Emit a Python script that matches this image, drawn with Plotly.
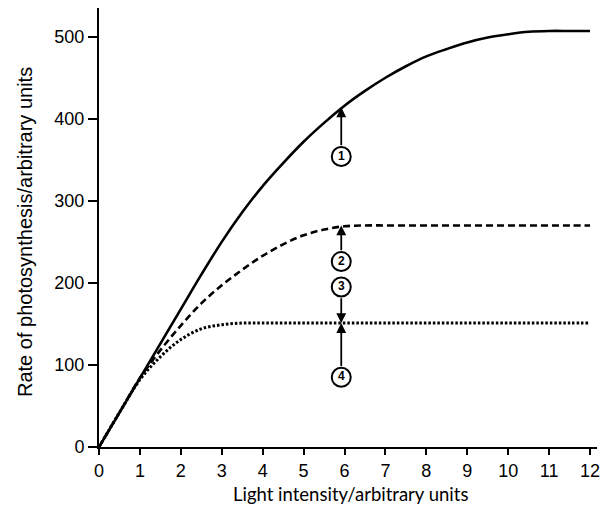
import plotly.graph_objects as go

# Data
light = [0, 0.5, 1, 1.5, 2, 2.5, 3, 3.5, 4, 4.5, 5, 5.5, 6, 6.5, 7, 7.5, 8, 8.5, 9, 9.5, 10, 10.5, 11, 11.5, 12]
curve1 = [0, 42, 84, 126, 168, 210, 250, 286, 318, 346, 372, 395, 416, 434, 450, 464, 476, 485, 493, 499, 503, 506, 507, 507, 507]
curve2 = [0, 42, 84, 118, 148, 175, 197, 216, 233, 247, 258, 265, 269, 270, 270, 270, 270, 270, 270, 270, 270, 270, 270, 270, 270]
curve3 = [0, 42, 82, 110, 131, 144, 149, 151, 151, 151, 151, 151, 151, 151, 151, 151, 151, 151, 151, 151, 151, 151, 151, 151, 151]

label_x = [5.92, 5.92, 5.92, 5.92]
label_y = [354, 226, 195, 85]
label_text = ["1", "2", "3", "4"]
# arrows: (tip_y, tail_y)
arrow_tip = [414, 270, 151, 151]
arrow_tail = [366, 238, 183, 97]

x_ticks = list(range(0, 13))
y_ticks = [0, 100, 200, 300, 400, 500]

fig = go.Figure()
fig.add_trace(go.Scatter(x=light, y=curve1, mode="lines", line=dict(color="black", width=2.6, shape="spline"), showlegend=False))
fig.add_trace(go.Scatter(x=light, y=curve2, mode="lines", line=dict(color="black", width=2.6, dash="7px,4px", shape="spline"), showlegend=False))
fig.add_trace(go.Scatter(x=light, y=curve3, mode="lines", line=dict(color="black", width=3, dash="2.5px,2px", shape="spline"), showlegend=False))

for xt, tip, tail in zip(label_x, arrow_tip, arrow_tail):
    fig.add_annotation(x=xt, y=tip, ax=xt, ay=tail, axref="x", ayref="y", xref="x", yref="y",
                       text="", showarrow=True, arrowhead=2, arrowsize=1.1, arrowwidth=1.8, arrowcolor="black")

fig.add_trace(go.Scatter(x=label_x, y=label_y, mode="markers+text", text=["<b>" + t + "</b>" for t in label_text],
                         textposition="middle center",
                         textfont=dict(family="Liberation Sans", size=12, color="black"),
                         marker=dict(symbol="circle", size=19, color="white", line=dict(color="black", width=2)),
                         showlegend=False, cliponaxis=False))

fig.add_annotation(text="Light intensity/arbitrary units", xref="paper", yref="paper",
                   x=(350 - 99) / 498, y=(447 - 494) / 439, xanchor="center", yanchor="middle",
                   showarrow=False, font=dict(family="Lato", size=18.5, color="black"))
fig.add_annotation(text="Rate of photosynthesis/arbitrary units", xref="paper", yref="paper",
                   x=(25 - 99) / 498, y=(447 - 232) / 439, xanchor="center", yanchor="middle", textangle=-90,
                   showarrow=False, font=dict(family="Liberation Sans", size=20, color="black"))

fig.update_layout(
    width=604, height=503,
    margin=dict(l=91, r=15, t=0, b=64),
    plot_bgcolor="white", paper_bgcolor="white",
    font=dict(family="Liberation Sans", color="black"),
)
fig.update_xaxes(range=[0, 12.17], tickvals=x_ticks, ticks="outside", ticklen=6, tickwidth=2, tickcolor="black",
                 showline=True, linecolor="black", linewidth=2, showgrid=False, zeroline=False, automargin=False,
                 tickfont=dict(family="Liberation Sans", size=18, color="black"))
fig.update_yaxes(range=[0, 535], tickvals=y_ticks, ticks="outside", ticklen=9, tickwidth=2, tickcolor="black",
                 showline=True, linecolor="black", linewidth=2, showgrid=False, zeroline=False, automargin=False,
                 tickfont=dict(family="Liberation Sans", size=18, color="black"))

fig.write_html("out.html")
